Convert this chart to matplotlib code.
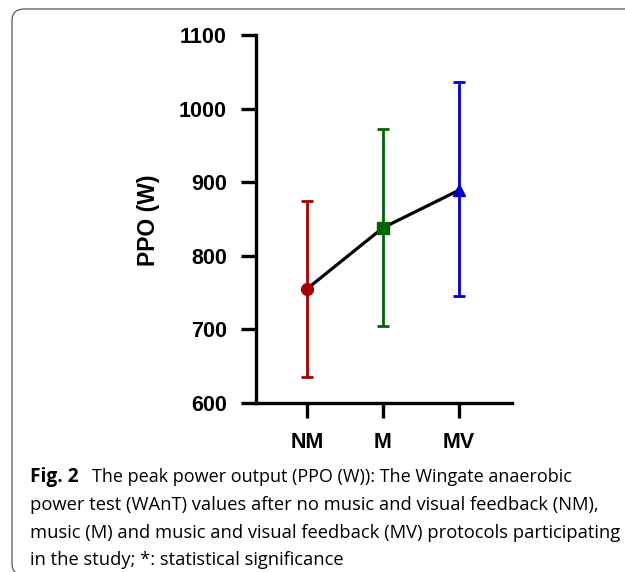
import matplotlib
matplotlib.use("Agg")
import matplotlib.pyplot as plt
from matplotlib.patches import FancyBboxPatch

categories = ["NM", "M", "MV"]
means = [755, 838, 889]
upper = [874, 972, 1036]
lower = [635, 705, 745]
colors = ["#A50000", "#006400", "#0000C8"]
markers = ["o", "s", "^"]
yticks = [600, 700, 800, 900, 1000, 1100]

W, H = 625, 572
fig = plt.figure(figsize=(W / 100, H / 100), dpi=100)

# rounded frame
fl, ft, fb = 12 / W, 1 - 9 / H, -3 / H
frame = FancyBboxPatch((fl, fb), 1.2, ft - fb,
                       boxstyle="round,pad=0,rounding_size=0.02",
                       transform=fig.transFigure, fill=False,
                       edgecolor="#555555", linewidth=0.9)
fig.patches.append(frame)

ax = fig.add_axes([256 / W, 1 - 403 / H, (512 - 256) / W, (403 - 35) / H])
x = list(range(1, len(categories) + 1))
ax.plot(x, means, color="black", linewidth=2.3, zorder=2)
for xi, m, u, l, c, mk in zip(x, means, upper, lower, colors, markers):
    ax.errorbar([xi], [m], yerr=[[m - l], [u - m]], fmt=mk, color=c,
                ecolor=c, elinewidth=2.0, capsize=4.5, capthick=2.0,
                markersize=8.5, zorder=3)

ax.set_xlim(0.33, 3.7)
ax.set_ylim(600, 1100)
ax.set_yticks(yticks)
ax.set_xticks(x)
ax.set_xticklabels(categories)
for s in ["top", "right"]:
    ax.spines[s].set_visible(False)
for s in ["left", "bottom"]:
    ax.spines[s].set_linewidth(2.4)
ax.tick_params(width=2.4, length=11, labelsize=15.5, pad=10)
for lbl in ax.get_xticklabels() + ax.get_yticklabels():
    lbl.set_fontfamily("Liberation Sans")
    lbl.set_fontweight("bold")
fig.text(148 / W, 1 - 220 / H, "PPO (W)", fontsize=16.5, fontweight="bold",
         fontfamily="Liberation Sans", rotation=90, ha="center", va="center")

lines = [
    "The peak power output (PPO (W)): The Wingate anaerobic",
    "power test (WAnT) values after no music and visual feedback (NM),",
    "music (M) and music and visual feedback (MV) protocols participating",
    "in the study; *: statistical significance",
]
ys = [482, 510, 537.5, 565]
fs = 13.2
fig.text(30 / W, 1 - ys[0] / H, "Fig. 2", fontsize=13.8, fontweight="bold",
         fontfamily="Open Sans", va="baseline", ha="left")
fig.text(92 / W, 1 - ys[0] / H, lines[0], fontsize=13.0,
         fontfamily="Open Sans", va="baseline", ha="left")
for ln, yy in zip(lines[1:], ys[1:]):
    fig.text(30 / W, 1 - yy / H, ln, fontsize=fs,
             fontfamily="Open Sans", va="baseline", ha="left")

fig.savefig("out.png", dpi=100)
